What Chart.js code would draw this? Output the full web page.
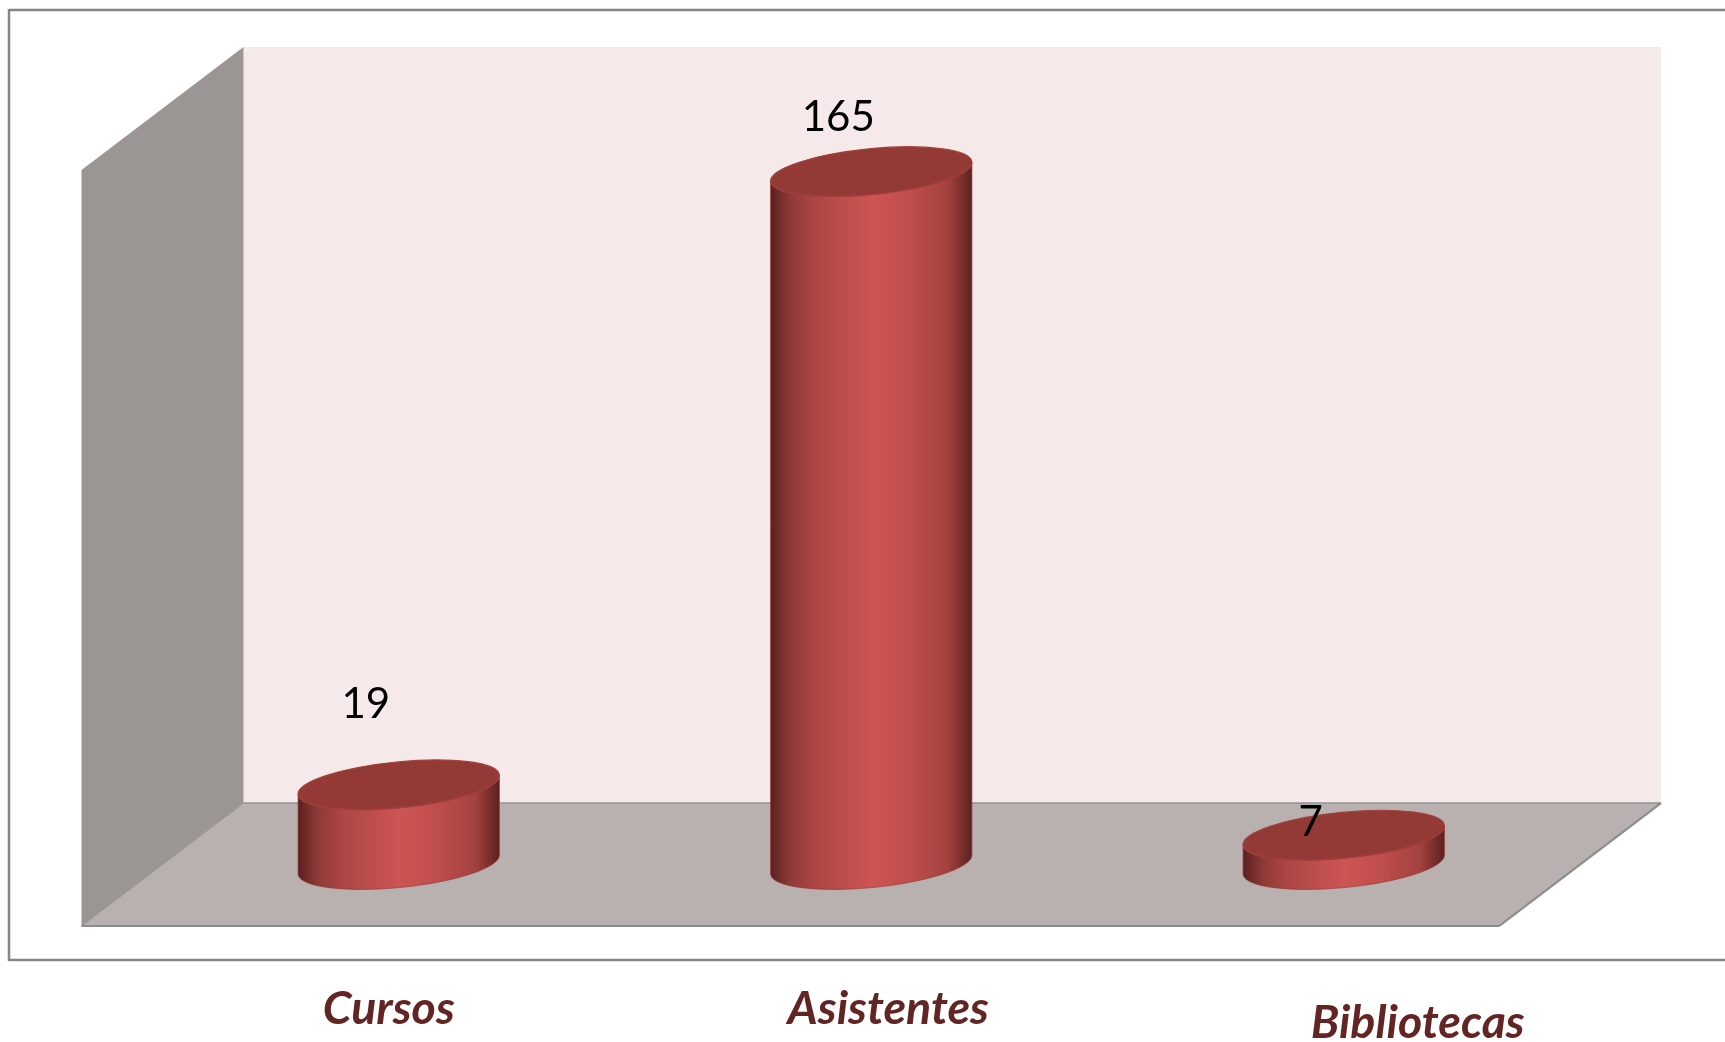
<!DOCTYPE html>
<html>
<head>
<meta charset="utf-8">
<title>Cursos, Asistentes, Bibliotecas</title>
<script src="https://cdn.jsdelivr.net/npm/chart.js@4/dist/chart.umd.js"></script>
<style>
  html, body { margin: 0; padding: 0; background: #fff; overflow: hidden; }
  #wrap { position: relative; width: 1725px; height: 1042px; }
</style>
</head>
<body>
<div id="wrap"><canvas id="chart"></canvas></div>
<script>
const categories = ["Cursos", "Asistentes", "Bibliotecas"];
const values = [19, 165, 7];

// these labels were placed by hand in the original, so they sit off the bars
const valueLabelOffsets = [[-33, -67], [-33, -41], [-33, 1]];
const categoryLabelOffsets = [[-10, 159], [17, 159], [74, 173]];

const depthX = 81;
const depthY = 61.5;

class CylinderBar extends Chart.BarElement {
  static id = "cylinderBar";

  draw(ctx) {
    const { x, y, base, width } = this.getProps(["x", "y", "base", "width"]);
    const rx = width * 0.503;
    const ry = width * 0.114;
    const rot = -5.6 * Math.PI / 180;
    const t0 = Math.atan2(ry * Math.sin(-rot), rx * Math.cos(rot));

    const grad = ctx.createLinearGradient(x - width / 2, 0, x + width / 2, 0);
    grad.addColorStop(0, "#5c211f");
    grad.addColorStop(0.1, "#8f3a38");
    grad.addColorStop(0.22, "#ac4644");
    grad.addColorStop(0.5, "#cd5554");
    grad.addColorStop(0.68, "#c04e4c");
    grad.addColorStop(0.88, "#a34240");
    grad.addColorStop(1, "#5c211f");

    ctx.save();
    // side
    ctx.beginPath();
    ctx.ellipse(x, base, rx, ry, rot, t0, t0 + Math.PI, false);
    ctx.ellipse(x, y, rx, ry, rot, t0 + Math.PI, t0, true);
    ctx.closePath();
    ctx.fillStyle = grad;
    ctx.fill();
    ctx.lineWidth = 1;
    ctx.strokeStyle = "rgba(150,55,52,0.7)";
    ctx.stroke();
    // top cap
    ctx.beginPath();
    ctx.ellipse(x, y, rx, ry, rot, 0, Math.PI * 2);
    ctx.fillStyle = "#933a37";
    ctx.fill();
    ctx.lineWidth = 1.2;
    ctx.strokeStyle = "#a33f3c";
    ctx.stroke();
    ctx.restore();
  }
}

class CylinderController extends Chart.BarController {
  static id = "cylinder";
  static defaults = { ...Chart.BarController.defaults, dataElementType: "cylinderBar" };
  static overrides = Chart.BarController.overrides;
}

Chart.register(CylinderBar, CylinderController);

const poly = (ctx, pts, fill) => {
  ctx.beginPath();
  pts.forEach((p, i) => (i ? ctx.lineTo(p[0], p[1]) : ctx.moveTo(p[0], p[1])));
  ctx.closePath();
  ctx.fillStyle = fill;
  ctx.fill();
};

const line = (ctx, a, b, color, w) => {
  ctx.beginPath();
  ctx.moveTo(a[0], a[1]);
  ctx.lineTo(b[0], b[1]);
  ctx.strokeStyle = color;
  ctx.lineWidth = w;
  ctx.stroke();
};

const box3d = {
  id: "box3d",
  beforeDatasetsDraw(chart) {
    const { ctx, chartArea: a } = chart;
    const backL = a.left + depthX, backR = a.right + depthX;
    const frontL = a.left - depthX, frontR = a.right - depthX;
    const backT = a.top - depthY, backB = a.bottom - depthY;
    const frontT = a.top + depthY, frontB = a.bottom + depthY;

    ctx.save();
    // outer frame, runs off the right side of the picture
    line(ctx, [1725, 10], [9, 10], "#868686", 2.5);
    line(ctx, [9, 9], [9, 961], "#868686", 2.5);
    line(ctx, [9, 960], [1725, 960], "#868686", 2.5);

    poly(ctx, [[backL, backT], [backR, backT], [backR, backB], [backL, backB]], "#f5e9e9");
    poly(ctx, [[frontL, frontT], [backL, backT], [backL, backB], [frontL, frontB]], "#9b9594");
    poly(ctx, [[frontL, frontB], [backL, backB], [backR, backB], [frontR, frontB]], "#b9b0b0");

    line(ctx, [backL, backB], [backR, backB], "#969292", 1.5);
    line(ctx, [frontL, frontB], [backL, backB], "#969292", 1);
    line(ctx, [frontL, frontB], [frontR, frontB], "#8c8c8c", 2);
    line(ctx, [frontR, frontB], [backR, backB], "#8c8c8c", 2);
    ctx.restore();
  },
  afterDatasetsDraw(chart) {
    const { ctx } = chart;
    const bars = chart.getDatasetMeta(0).data;
    const bottom = chart.chartArea.bottom;

    ctx.save();
    ctx.textAlign = "center";
    ctx.textBaseline = "alphabetic";

    ctx.font = "42px Lato";
    ctx.fillStyle = "#000";
    bars.forEach((bar, i) => {
      const off = valueLabelOffsets[i];
      ctx.fillText(String(values[i]), bar.x + off[0], bar.y + off[1]);
    });

    ctx.font = "italic bold 46.5px Lato";
    ctx.fillStyle = "#632523";
    bars.forEach((bar, i) => {
      const off = categoryLabelOffsets[i];
      ctx.fillText(categories[i], bar.x + off[0], bottom + off[1]);
    });
    ctx.restore();
  }
};

new Chart(document.getElementById("chart"), {
  type: "cylinder",
  data: {
    labels: categories,
    datasets: [{
      data: values,
      backgroundColor: "#c0504d",
      barPercentage: 1,
      categoryPercentage: 0.4255,
      clip: false
    }]
  },
  options: {
    responsive: true,
    maintainAspectRatio: false,
    animation: false,
    layout: { padding: { left: 162.5, right: 145, top: 108.6, bottom: 177.4 } },
    plugins: { legend: { display: false }, tooltip: { enabled: false } },
    scales: {
      x: { display: false, grid: { display: false } },
      y: { display: false, min: 0, max: 180, grid: { display: false } }
    }
  },
  plugins: [box3d]
});
</script>
</body>
</html>
